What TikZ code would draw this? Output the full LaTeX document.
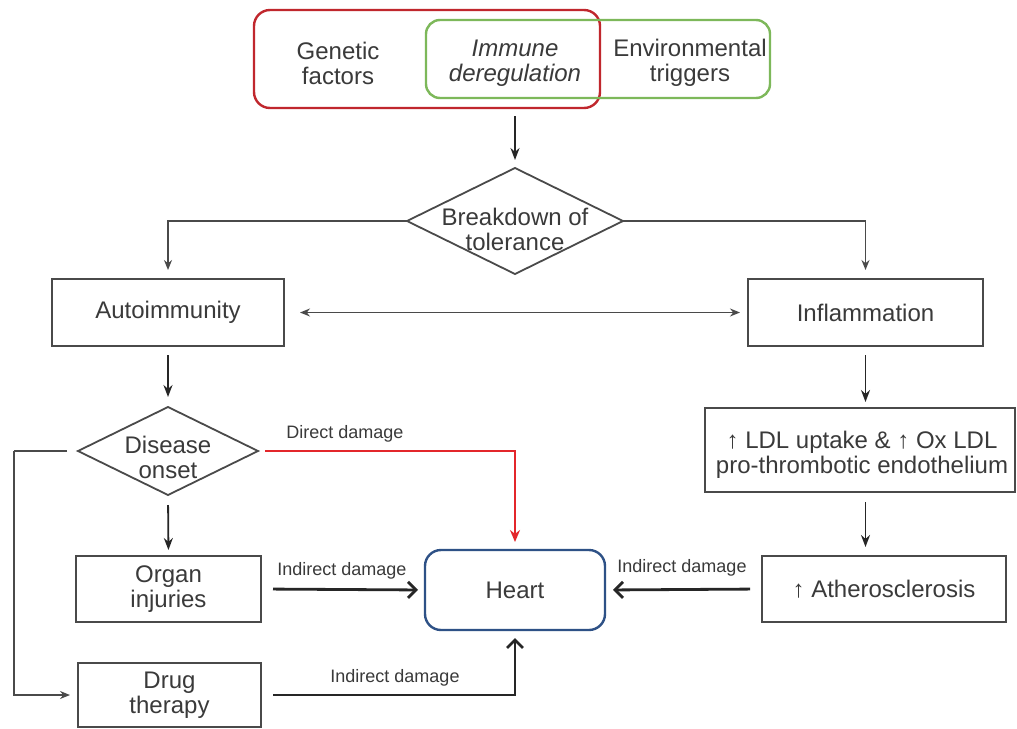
\documentclass[tikz,border=0pt]{standalone}
\usepackage{fontspec}
\setmainfont{Liberation Sans}
\usetikzlibrary{arrows.meta,shapes.geometric,calc}
\definecolor{txtc}{HTML}{3A3A3A}
\definecolor{boxc}{HTML}{4A4A4A}
\definecolor{redbox}{HTML}{C0272D}
\definecolor{greenbox}{HTML}{7DB85A}
\definecolor{bluebox}{HTML}{2E5186}
\definecolor{redline}{HTML}{E3262B}
\begin{document}
\begin{tikzpicture}[x=0.5pt,y=-0.5pt,
  every node/.style={text=txtc, font=\fontsize{12}{12.5}\selectfont, align=center, inner sep=0pt, outer sep=0pt},
  box/.style={draw=boxc, line width=0.9pt, rectangle},
  dia/.style={draw=boxc, line width=0.9pt, diamond},
  lab/.style={font=\fontsize{9}{10}\selectfont},
  thinarr/.style={draw=boxc, line width=0.7pt, -{Stealth[length=5pt,width=4pt]}},
  dblarr/.style={draw=boxc, line width=0.7pt, {Stealth[length=5pt,width=4pt]}-{Stealth[length=5pt,width=4pt]}},
  varr/.style={draw=black!85, line width=0.9pt, -{Stealth[length=6pt,width=4.5pt]}},
  indarr/.style={draw=black!85, line width=1.4pt, -{Straight Barb[length=4pt,width=8pt]}},
  redarr/.style={draw=redline, line width=1pt, -{Stealth[length=6pt,width=5pt]}},
  plainline/.style={draw=boxc, line width=0.7pt}
]
\fill[white] (0,0) rectangle (1017,728);
\useasboundingbox (0,0) rectangle (1017,728);

% top group
\node[draw=redbox, rounded corners=8pt, line width=1.2pt, minimum width=173pt, minimum height=49pt] (gen) at (427,59) {};
\node[draw=greenbox, rounded corners=7pt, line width=1.2pt, minimum width=172pt, minimum height=39pt] (env) at (598,59) {};
\node (gent) at (338,63) {Genetic\\factors};
\node (immt) at (515,63) {\itshape Immune\\\itshape deregulation};
\node (envt) at (690,63) {Environmental\\triggers};

% breakdown
\node[dia, minimum width=108pt, minimum height=53pt] (bd) at (515,221) {};
\node (bdt) at (515,229) {Breakdown of\\tolerance};

% second row
\node[box, minimum width=116pt, minimum height=33.5pt] (auto) at (168,312.5) {Autoimmunity};
\node[box, minimum width=117.5pt, minimum height=33.5pt] (infl) at (865.5,312.5) {Inflammation};

% disease onset
\node[dia, minimum width=90pt, minimum height=44pt] (do) at (168,451) {};
\node (dot) at (168,457) {Disease\\onset};

% LDL
\node[box, minimum width=155pt, minimum height=42pt] (ldl) at (860,450) {};
\node (ldlt) at (862,455) {↑ LDL uptake \& ↑ Ox LDL\\pro-thrombotic endothelium};

% bottom row
\node[box, minimum width=92.5pt, minimum height=33pt] (organ) at (168.5,589) {Organ\\injuries};
\node[box, minimum width=91.5pt, minimum height=32pt] (drug) at (169.5,695) {Drug\\therapy};
\node[draw=bluebox, rounded corners=8pt, line width=1.2pt, minimum width=90pt, minimum height=40pt] (heart) at (515,590) {Heart};
\node[box, minimum width=122pt, minimum height=33pt] (ath) at (884,589) {↑ Atherosclerosis};

% labels
\node[lab] (dd) at (345,434) {Direct damage};
\node[lab] (l1) at (342,571) {Indirect damage};
\node[lab] (l2) at (395,678) {Indirect damage};
\node[lab] (l3) at (682,568) {Indirect damage};

\coordinate (lb) at (14,451);

% connectors
\draw[varr, shorten <=4pt, shorten >=4pt] (bd.north |- gen.south) -- (bd.north);
\draw[thinarr, shorten >=4.5pt] (bd.west) -| (auto.north);
\draw[thinarr, shorten >=4.5pt] (bd.east) -| (infl.north);
\draw[dblarr, shorten <=8pt, shorten >=4pt] (auto.east) -- (infl.west);
\draw[varr, shorten <=4.5pt, shorten >=5pt] (auto.south) -- (do.north);
\draw[redarr, shorten <=3.5pt, shorten >=4pt] (do.east) -| (heart.north);
\draw[plainline, shorten <=5.5pt] (do.west) -- (lb);
\draw[thinarr, shorten >=4pt] (lb) |- (drug.west);
\draw[varr, shorten <=5pt, shorten >=3pt] (do.south) -- (organ.north);
\draw[indarr, shorten <=6pt, shorten >=3.5pt] (organ.east) -- (heart.west);
\draw[indarr, shorten <=6pt, shorten >=4pt] (drug.east) -| (heart.south);
\draw[indarr, shorten <=6pt, shorten >=4pt] (ath.west) -- (heart.east);
\draw[varr, shorten <=4.5pt, shorten >=3pt] (infl.south) -- (infl.south |- ldl.north);
\draw[varr, shorten <=5pt, shorten >=4.5pt] (infl.south |- ldl.south) -- (infl.south |- ath.north);
\end{tikzpicture}
\end{document}
